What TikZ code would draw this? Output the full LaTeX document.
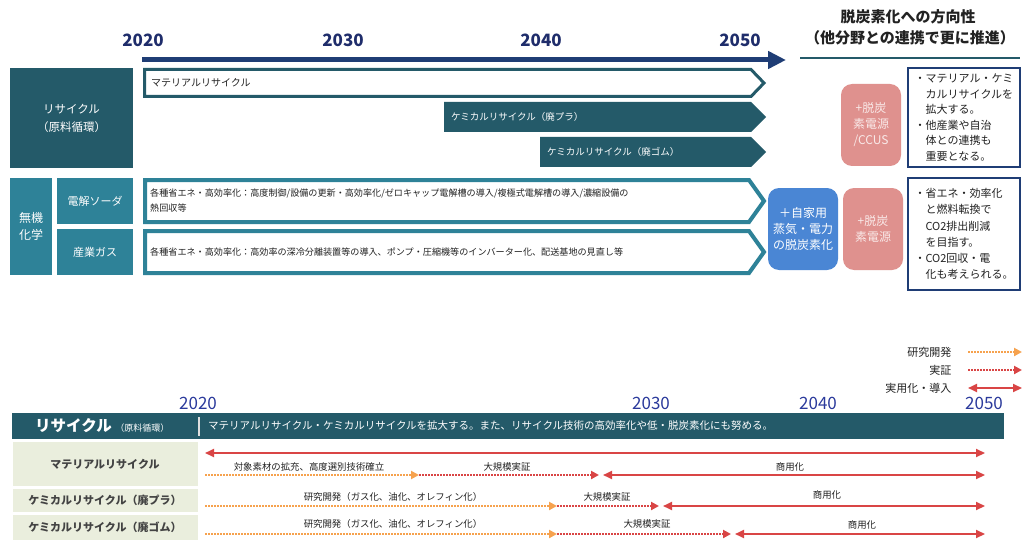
\documentclass[tikz,border=0pt]{standalone}
\usepackage{fontspec}
\setmainfont{Noto Sans CJK JP}
\usetikzlibrary{arrows.meta}

\definecolor{recyteal}{HTML}{245A69}
\definecolor{chemteal}{HTML}{2E8298}
\definecolor{yearnavy}{HTML}{1F2D6B}
\definecolor{arrownavy}{HTML}{1F3D75}
\definecolor{yearblue}{HTML}{2B3A9C}
\definecolor{selfblue}{HTML}{4A86D4}
\definecolor{pinkbox}{HTML}{DF918E}
\definecolor{rowfill}{HTML}{EAEEDD}
\definecolor{rdorange}{HTML}{F6A24E}
\definecolor{demored}{HTML}{D94545}
\definecolor{inktext}{HTML}{222222}

\newcommand{\fsz}[2]{\fontsize{#1}{#2}\selectfont}

\tikzset{
  topyear/.style={font=\fsz{17}{20}\bfseries, text=yearnavy},
  botyear/.style={font=\fsz{17}{20}, text=yearblue},
  catbox/.style={fill=#1, text=white, align=center, inner sep=0, font=\fsz{11.5}{18}},
  chevtext/.style={anchor=west, inner sep=0, font=\fsz{9.5}{12}},
  effort/.style={anchor=west, align=left, inner sep=0, font=\fsz{9.1}{15}, text=inktext},
  roundbox/.style={fill=#1, rounded corners=11, minimum width=60, minimum height=82,
    align=center, inner sep=0, font=\fsz{12}{16}},
  dirbox/.style={draw=arrownavy, line width=1.6, minimum width=112, align=left,
    inner sep=0, text=inktext},
  rowlbl/.style={fill=rowfill, minimum width=185, inner sep=0,
    font=\fsz{11}{13}\bfseries, text=inktext!85},
  steplbl/.style={font=\fsz{9.4}{10}, text=inktext, inner sep=1},
  legend/.style={font=\fsz{11}{13}, text=inktext},
  rdline/.style={rdorange, line width=2, dash pattern=on 1.6pt off 1.4pt,
    -{Triangle[length=8pt,width=8pt]}},
  demoline/.style={demored, line width=2, dash pattern=on 1.6pt off 1.4pt,
    -{Triangle[length=8pt,width=8pt]}},
  useline/.style={demored, line width=2,
    {Triangle[length=9pt,width=8pt]}-{Triangle[length=9pt,width=8pt]}}
}

\begin{document}
\begin{tikzpicture}[x=1pt, y=-1pt]
  \useasboundingbox (0,0) rectangle (1024,540);
  \fill[white] (0,0) rectangle (1024,540);

  % ---------- upper roadmap ----------
  \foreach \yr/\x in {2020/143, 2030/343, 2040/541, 2050/740}
    \node[topyear] (top\yr) at (\x,40) {\yr};
  \coordinate (tlstart) at (142,60);
  \coordinate (tlend) at (786,60);
  \draw[arrownavy, line width=5, -{Triangle[length=18pt,width=17pt]}] (tlstart) -- (tlend);

  \node[font=\fsz{15}{18}\bfseries, text=inktext] (dirhead) at (908,17) {脱炭素化への方向性};
  \node[font=\fsz{15}{18}\bfseries, text=inktext] (dirsub) at (910,38) {（他分野との連携で更に推進）};
  \draw[recyteal, line width=2] (800,58) -- (1020,58);

  % recycle block
  \node[catbox=recyteal, minimum width=123, minimum height=100] (recycle) at (71.5,118)
    {リサイクル\\（原料循環）};
  \draw[recyteal, line width=3, fill=white]
    (144.5,69.5) -- (751,69.5) -- (764,83) -- (751,96.5) -- (144.5,96.5) -- cycle;
  \node[chevtext, text=inktext, font=\fsz{10}{12}] (matlchev) at (151,83) {マテリアルリサイクル};
  \fill[recyteal] (444,102) -- (751,102) -- (766,117) -- (751,132) -- (444,132) -- cycle;
  \node[chevtext, text=white] (plachev) at (451,117) {ケミカルリサイクル（廃プラ）};
  \fill[recyteal] (540,137) -- (751,137) -- (766,152) -- (751,167) -- (540,167) -- cycle;
  \node[chevtext, text=white] (rubchev) at (547,152) {ケミカルリサイクル（廃ゴム）};

  % inorganic block
  \node[catbox=chemteal, minimum width=42, minimum height=97, font=\fsz{12}{17}] (inorg) at (31,226.5)
    {無機\\化学};
  \node[catbox=chemteal, minimum width=76, minimum height=46, font=\fsz{11}{13}] (soda) at (95,201) {電解ソーダ};
  \node[catbox=chemteal, minimum width=76, minimum height=46, font=\fsz{11}{13}] (indgas) at (95,252) {産業ガス};
  \draw[chemteal, line width=4, fill=white]
    (145,180) -- (749,180) -- (764,201) -- (749,222) -- (145,222) -- cycle;
  \node[effort] (sodatxt) at (150,201)
    {各種省エネ・高効率化：高度制御/設備の更新・高効率化/ゼロキャップ電解槽の導入/複極式電解槽の導入/濃縮設備の\\熱回収等};
  \draw[chemteal, line width=4, fill=white]
    (145,231) -- (749,231) -- (764,252) -- (749,273) -- (145,273) -- cycle;
  \node[effort] (gastxt) at (150,252)
    {各種省エネ・高効率化：高効率の深冷分離装置等の導入、ポンプ・圧縮機等のインバーター化、配送基地の見直し等};

  % decarbonisation boxes
  \node[roundbox=selfblue, minimum width=70, text=white] (selfpower) at (803,229)
    {＋自家用\\蒸気・電力\\の脱炭素化};
  \node[roundbox=pinkbox, text=white!80!pinkbox] (pinkccus) at (871,125) {+脱炭\\素電源\\/CCUS};
  \node[roundbox=pinkbox, text=white!80!pinkbox] (pinkpower) at (873,229) {+脱炭\\素電源};

  \node[dirbox, minimum height=99, font=\fsz{11}{15.5}] (dir1) at (964,117.5)
    {・マテリアル・ケミ\\\hspace*{1em}カルリサイクルを\\\hspace*{1em}拡大する。\\
     ・他産業や自治\\\hspace*{1em}体との連携も\\\hspace*{1em}重要となる。};
  \node[dirbox, minimum height=112, font=\fsz{11}{16.3}] (dir2) at (964,234)
    {・省エネ・効率化\\\hspace*{1em}と燃料転換で\\\hspace*{1em}CO2排出削減\\\hspace*{1em}を目指す。\\
     ・CO2回収・電\\\hspace*{1em}化も考えられる。};

  % ---------- lower roadmap ----------
  \node[legend, anchor=east] (lgrd) at (955,352) {研究開発};
  \node[legend, anchor=east] (lgdemo) at (955,370) {実証};
  \node[legend, anchor=east] (lguse) at (955,388) {実用化・導入};
  \draw[rdline] ([xshift=13pt]lgrd.east) -- ++(54,0);
  \draw[demoline] ([xshift=13pt]lgdemo.east) -- ++(54,0);
  \draw[useline] ([xshift=13pt]lguse.east) -- ++(54,0);

  \foreach \yr/\x in {2020/198, 2030/651, 2040/818, 2050/984}
    \node[botyear] (bot\yr) at (\x,403) {\yr};

  \node[fill=recyteal, minimum width=992, minimum height=26, inner sep=0] (rbar) at (508,426) {};
  \node[anchor=west, text=white, font=\fsz{15.5}{18}\bfseries, inner sep=0] (rbartitle) at (35,426) {リサイクル};
  \node[anchor=base west, text=white, font=\fsz{9}{11}, inner sep=0, xshift=3pt] (rbarsub)
    at (rbartitle.base east) {（原料循環）};
  \draw[white!75!gray, line width=1.5] (199,417) -- (199,436);
  \node[anchor=west, text=white, font=\fsz{10.5}{12}, inner sep=0] (rbartext) at (208,426)
    {マテリアルリサイクル・ケミカルリサイクルを拡大する。また、リサイクル技術の高効率化や低・脱炭素化にも努める。};

  \node[rowlbl, minimum height=44] (rowmat) at (105,464) {マテリアルリサイクル};
  \node[rowlbl, minimum height=23] (rowpla) at (105,500.5) {ケミカルリサイクル（廃プラ）};
  \node[rowlbl, minimum height=25] (rowrub) at (105,527) {ケミカルリサイクル（廃ゴム）};

  % material recycle
  \coordinate (mt0) at (205,453); \coordinate (mt1) at (985,453);
  \draw[useline] (mt0) -- (mt1);
  \coordinate (m0) at (205,475); \coordinate (m1) at (419,475);
  \coordinate (m2) at (599,475); \coordinate (m3) at (603,475); \coordinate (m4) at (985,475);
  \draw[rdline] (m0) -- (m1);
  \draw[demoline] (m1) -- (m2);
  \draw[useline] (m3) -- (m4);
  \node[steplbl] (matrd) at (309,467) {対象素材の拡充、高度選別技術確立};
  \node[steplbl] (matdemo) at (507,467) {大規模実証};
  \node[steplbl] (matuse) at (790,467) {商用化};

  % chemical recycle (plastics)
  \coordinate (p0) at (205,506); \coordinate (p1) at (557,506);
  \coordinate (p2) at (659,506); \coordinate (p3) at (663,506); \coordinate (p4) at (985,506);
  \draw[rdline] (p0) -- (p1);
  \draw[demoline] (p1) -- (p2);
  \draw[useline] (p3) -- (p4);
  \node[steplbl] (plard) at (393,497) {研究開発（ガス化、油化、オレフィン化）};
  \node[steplbl] (plademo) at (607,497) {大規模実証};
  \node[steplbl] (plause) at (827,495) {商用化};

  % chemical recycle (rubber)
  \coordinate (r0) at (205,534); \coordinate (r1) at (557,534);
  \coordinate (r2) at (731,534); \coordinate (r3) at (735,534); \coordinate (r4) at (985,534);
  \draw[rdline] (r0) -- (r1);
  \draw[demoline] (r1) -- (r2);
  \draw[useline] (r3) -- (r4);
  \node[steplbl] (rubrd) at (393,524) {研究開発（ガス化、油化、オレフィン化）};
  \node[steplbl] (rubdemo) at (647,524) {大規模実証};
  \node[steplbl] (rubuse) at (862,525) {商用化};
\end{tikzpicture}
\end{document}
